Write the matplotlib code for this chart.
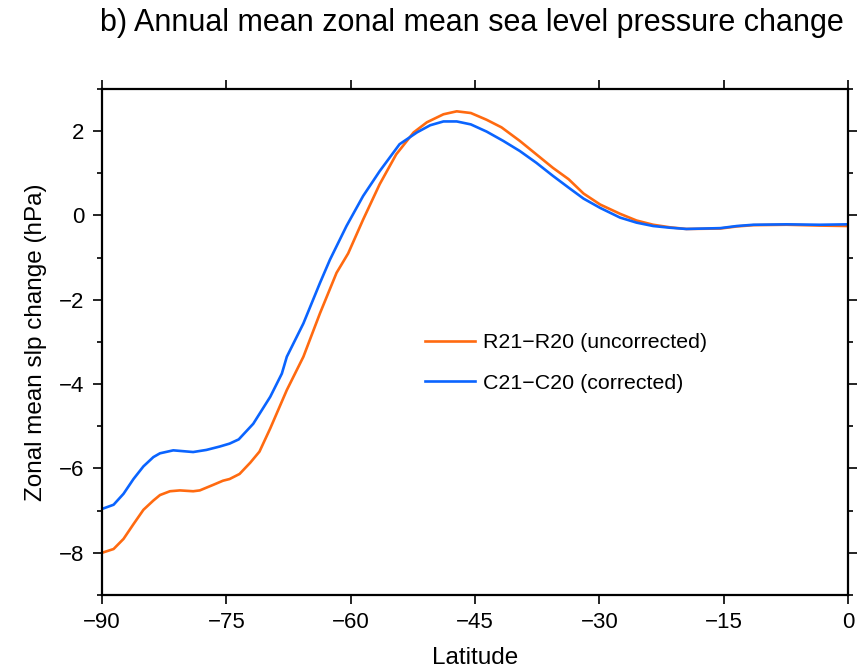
#!/usr/bin/env python3

# Import special modules ...
import matplotlib
matplotlib.use("Agg")
import matplotlib.pyplot
import matplotlib.ticker

lat_unc = [-90.0, -88.6, -87.4, -86.2, -85.0, -83.8, -83.0, -81.8, -80.6, -79.0,
           -78.2, -76.6, -75.4, -74.6, -73.4, -72.1, -71.0, -69.7, -67.7, -65.7,
           -63.7, -61.7, -60.3, -58.5, -56.5, -54.5, -52.4, -50.8, -48.8, -47.2,
           -45.5, -43.6, -41.8, -39.6, -37.6, -35.6, -33.7, -31.9, -29.9, -27.5,
           -25.5, -23.5, -21.5, -19.5, -15.4, -13.4, -11.4, -7.4, -3.4, 0.0]
slp_unc = [-8.00, -7.91, -7.67, -7.32, -6.98, -6.76, -6.63, -6.54, -6.52, -6.54,
           -6.52, -6.39, -6.29, -6.25, -6.13, -5.86, -5.60, -5.05, -4.14, -3.35,
           -2.32, -1.36, -0.90, -0.10, 0.74, 1.45, 1.97, 2.21, 2.40, 2.47,
           2.43, 2.27, 2.09, 1.77, 1.45, 1.13, 0.86, 0.52, 0.26, 0.04,
           -0.12, -0.22, -0.28, -0.32, -0.31, -0.26, -0.23, -0.22, -0.24, -0.25]

lat_cor = [-90.0, -88.6, -87.4, -86.2, -85.0, -83.8, -83.0, -81.4, -79.0, -77.4,
           -75.8, -74.6, -73.5, -71.75, -69.7, -68.3, -67.7, -65.7, -63.7, -62.5,
           -61.9, -60.5, -58.5, -56.5, -54.1, -52.0, -50.4, -48.8, -47.2, -45.5,
           -43.6, -41.6, -39.6, -37.6, -35.6, -33.7, -31.9, -29.9, -27.5, -25.5,
           -23.5, -21.5, -19.5, -15.4, -13.4, -11.4, -7.4, -3.4, 0.0]
slp_cor = [-6.96, -6.86, -6.60, -6.25, -5.95, -5.73, -5.64, -5.57, -5.61, -5.56,
           -5.48, -5.41, -5.31, -4.94, -4.30, -3.75, -3.35, -2.56, -1.60, -1.05,
           -0.81, -0.25, 0.46, 1.05, 1.69, 1.97, 2.14, 2.23, 2.23, 2.16,
           1.99, 1.77, 1.53, 1.25, 0.94, 0.66, 0.40, 0.18, -0.05, -0.17,
           -0.25, -0.29, -0.32, -0.30, -0.25, -0.22, -0.21, -0.22, -0.21]

xticks = [-90, -75, -60, -45, -30, -15, 0]

# Fonts ...
matplotlib.pyplot.rcParams["font.family"] = ["Liberation Sans", "DejaVu Sans"]

# Create figure ...
fg = matplotlib.pyplot.figure(figsize = (8.65, 6.71), dpi = 100)
ax = fg.add_axes([0.1179, 0.1133, 0.8624, 0.7541])

# Plot lines ...
ax.plot(lat_unc, slp_unc, color = "#FF6A10", linewidth = 1.9, label = "R21\u2212R20 (uncorrected)")
ax.plot(lat_cor, slp_cor, color = "#0A64FF", linewidth = 1.9, label = "C21\u2212C20 (corrected)")

# Configure axis ...
ax.set_xlim(-90, 0)
ax.set_ylim(-9, 3)
ax.set_xticks(xticks)
ax.yaxis.set_major_locator(matplotlib.ticker.MultipleLocator(2))
ax.yaxis.set_minor_locator(matplotlib.ticker.MultipleLocator(1))
ax.tick_params(which = "both", direction = "out", top = True, right = True, labelsize = 16, width = 1.2, pad = 6)
ax.tick_params(which = "major", length = 6.5)
ax.tick_params(which = "minor", length = 3.5)
for spine in ax.spines.values():
    spine.set_linewidth(1.6)
ax.set_xlabel("Latitude", fontsize = 17.5, labelpad = 10)
ax.set_ylabel("Zonal mean slp change (hPa)", fontsize = 17.5, labelpad = 9)

# Legend ...
ax.legend(loc = "center left", bbox_to_anchor = (0.433, 0.4585), frameon = False, fontsize = 15.4,
          handlelength = 2.34, handletextpad = 0.37, labelspacing = 1.0, borderaxespad = 0.0, borderpad = 0.0)

# Title ...
fg.text(0.1156, 0.965, "b) Annual mean zonal mean sea level pressure change", fontsize = 22, ha = "left", va = "center")

# Save figure ...
fg.savefig("out.png", dpi = 100)
matplotlib.pyplot.close(fg)
